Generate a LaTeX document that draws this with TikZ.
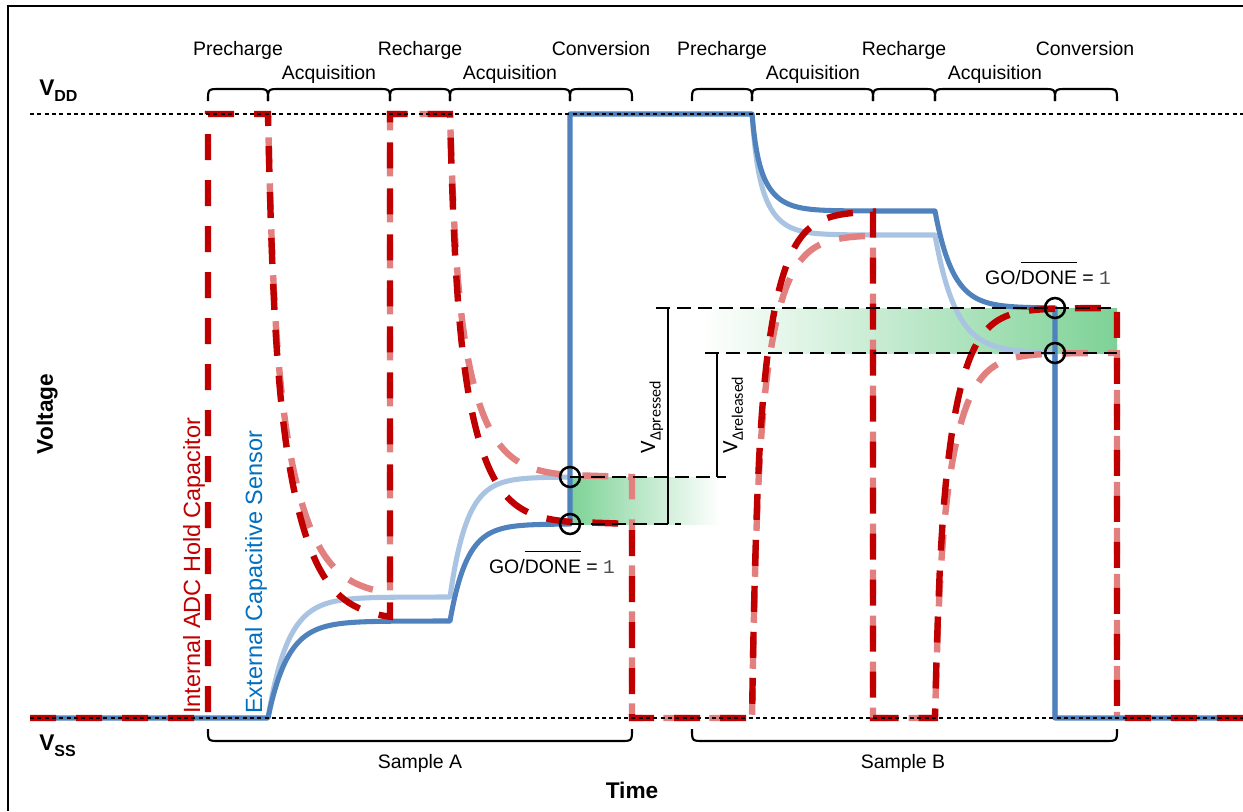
\documentclass[tikz,border=0pt]{standalone}
\usepackage{fontspec}
\setmainfont{Liberation Sans}
\newfontfamily\calfont{Carlito}
\newfontfamily\monofont{Liberation Mono}
\definecolor{dblue}{RGB}{79,129,189}
\definecolor{lblue}{RGB}{168,196,226}
\definecolor{dred}{RGB}{192,0,0}
\definecolor{lred}{RGB}{226,128,128}
\definecolor{tblue}{RGB}{0,112,192}
\definecolor{gfill}{RGB}{125,210,150}
\newsavebox\ovbox
\newcommand\myovl[1]{\sbox\ovbox{#1}\rlap{\rule[\dimexpr\ht\ovbox+5.5pt\relax]{\wd\ovbox}{0.8pt}}\usebox\ovbox}
\newcommand\godone{GO/\myovl{DONE} = {\monofont\color{black!70}1}}
\begin{document}
\begin{tikzpicture}[x=0.75pt,y=-0.75pt,
  db/.style={line width=3.8pt, dblue, line join=round},
  lb/.style={line width=3.8pt, lblue, line join=round},
  dr/.style={line width=4.8pt, dred, dash pattern=on 19.5pt off 15pt},
  lr/.style={line width=4.8pt, lred, dash pattern=on 19.5pt off 15pt, dash phase=17pt},
  rail/.style={line width=0.8pt, black, dash pattern=on 3pt off 2.5pt},
  bdash/.style={line width=2.2pt, black, dash pattern=on 10.5pt off 5.25pt},
  bracketline/.style={line width=2pt, black},
  bracelook/.style={line width=1.6pt, black},
  ring/.style={circle, draw, line width=1.9pt, minimum size=15pt, inner sep=0pt},
  lab/.style={font=\fontsize{14.6}{17}\selectfont, inner sep=0pt, anchor=base},
  big/.style={font=\bfseries\fontsize{17}{20}\selectfont, inner sep=0pt}]
\useasboundingbox (0,0) rectangle (1243,811);
% frame
\draw[line width=1.6pt] (8,811) -- (8,6) -- (1243,6);
% gradients
\shade[left color=gfill, right color=white] (570,477) rectangle (720,524);
\shade[left color=white, right color=gfill] (700,308) rectangle (1117,353);
% light blue (released)
\draw[lb] (268,718) -- plot[domain=268:450, samples=100] (\x,{597+121*exp(-(\x-268)/20)})
  -- plot[domain=450:570, samples=80] (\x,{477+120*exp(-(\x-450)/17)}) -- (570,477);
\draw[lb] (752,114) -- plot[domain=752:935, samples=120] (\x,{235-121*(0.3*exp(-(\x-752)/4)+0.7*exp(-(\x-752)/16))})
  -- plot[domain=935:1055, samples=80] (\x,{353-118*exp(-(\x-935)/21)}) -- (1055,718);
% light red (released)
\draw[lr] (268,114) -- plot[domain=268:390, samples=120] (\x,{597-483*(0.35*exp(-(\x-268)/5)+0.65*exp(-(\x-268)/28))})
  -- (390,114) -- (450,114)
  -- plot[domain=450:570, samples=120] (\x,{477-363*(0.35*exp(-(\x-450)/5)+0.65*exp(-(\x-450)/25))})
  -- (632,477) -- (632,718) -- (752,718)
  -- plot[domain=752:873, samples=120] (\x,{235+483*(0.4*exp(-(\x-752)/4)+0.6*exp(-(\x-752)/20))})
  -- (873,718) -- (935,718)
  -- plot[domain=935:1117, samples=120] (\x,{353+365*(0.3*exp(-(\x-935)/4)+0.7*exp(-(\x-935)/20))})
  -- (1117,718);
% dark blue (pressed)
\draw[db] (30,718) -- (268,718)
  -- plot[domain=268:450, samples=100] (\x,{621+97*exp(-(\x-268)/20)})
  -- plot[domain=450:570, samples=80] (\x,{524+97*exp(-(\x-450)/17)})
  -- (570,114) -- (752,114)
  -- plot[domain=752:935, samples=120] (\x,{211-97*(0.3*exp(-(\x-752)/4)+0.7*exp(-(\x-752)/16))})
  -- plot[domain=935:1055, samples=80] (\x,{308-97*exp(-(\x-935)/18)})
  -- (1055,718) -- (1243,718);
% dark red (pressed)
\draw[dr] (30,718) -- (208,718) -- (208,114) -- (268,114)
  -- plot[domain=268:390, samples=120] (\x,{621-507*(0.35*exp(-(\x-268)/5)+0.65*exp(-(\x-268)/28))})
  -- (390,114) -- (450,114)
  -- plot[domain=450:570, samples=120] (\x,{524-410*(0.35*exp(-(\x-450)/5)+0.65*exp(-(\x-450)/25))})
  -- (632,524) -- (632,718) -- (752,718)
  -- plot[domain=752:873, samples=120] (\x,{211+507*(0.4*exp(-(\x-752)/4)+0.6*exp(-(\x-752)/20))})
  -- (873,718) -- (935,718)
  -- plot[domain=935:1117, samples=120] (\x,{308+410*(0.3*exp(-(\x-935)/4)+0.7*exp(-(\x-935)/20))})
  -- (1117,718) -- (1243,718);
% rails
\draw[rail] (30,114) -- (1243,114);
\draw[rail] (30,718) -- (1243,718);
% black dashed levels and brackets
\draw[bdash] (570,477) -- (726,477);
\draw[bdash] (570,524) -- (681,524);
\draw[bdash] (656,308) -- (1117,308);
\draw[bdash] (705,353) -- (1117,353);
\draw[bracketline] (668,308) -- (668,524);
\draw[bracketline] (717,353) -- (717,477);
% rings
\node[ring] (c1) at (570,477) {};
\node[ring] (c2) at (570,524) {};
\node[ring] (c3) at (1055,308) {};
\node[ring] (c4) at (1055,353) {};
% top braces
\foreach \a/\b in {208/268, 268/390, 390/450, 450/570, 570/632, 692/752, 752/873, 873/935, 935/1055, 1055/1117}
  \draw[bracelook] (\a,101) .. controls (\a,89) .. (\a+12,89) -- (\b-12,89) .. controls (\b,89) .. (\b,101);
% bottom braces
\draw[bracelook] (208,729) .. controls (208,741) .. (220,741) -- (620,741) .. controls (632,741) .. (632,729);
\draw[bracelook] (692,729) .. controls (692,741) .. (704,741) -- (1105,741) .. controls (1117,741) .. (1117,729);
% phase labels
\node[lab] (p1) at (238,55) {Precharge};
\node[lab] (a1) at (329,79) {Acquisition};
\node[lab] (r1) at (420,55) {Recharge};
\node[lab] (a2) at (510,79) {Acquisition};
\node[lab] (v1) at (601,55) {Conversion};
\node[lab] (p2) at (722,55) {Precharge};
\node[lab] (a3) at (813,79) {Acquisition};
\node[lab] (r2) at (904,55) {Recharge};
\node[lab] (a4) at (995,79) {Acquisition};
\node[lab] (v2) at (1085,55) {Conversion};
\node[lab] (sa) at (420,768) {Sample A};
\node[lab] (sb) at (903,768) {Sample B};
% axis labels
\node[big, anchor=base west] (vdd) at (39,95) {V\raisebox{-0.3em}{\fontsize{12}{14}\selectfont DD}};
\node[big, anchor=base west] (vss) at (39,750) {V\raisebox{-0.3em}{\fontsize{12}{14}\selectfont SS}};
\node[big, rotate=90] (volt) at (47,414) {Voltage};
\node[big, anchor=base] (time) at (632,798) {Time};
% trace labels
\node[rotate=90, anchor=base west, inner sep=0pt, text=dred, font=\fontsize{17.6}{20}\selectfont] (lint) at (200,714) {Internal ADC Hold Capacitor};
\node[rotate=90, anchor=base west, inner sep=0pt, text=tblue, font=\fontsize{17.6}{20}\selectfont] (lext) at (262,714) {External Capacitive Sensor};
% delta labels
\node[rotate=90, inner sep=0pt, font=\calfont\fontsize{16.5}{19}\selectfont] (vp) at (652,417) {V\raisebox{-0.25em}{\fontsize{12}{14}\selectfont Δpressed}};
\node[rotate=90, inner sep=0pt, font=\calfont\fontsize{16.5}{19}\selectfont] (vr) at (733,415) {V\raisebox{-0.25em}{\fontsize{12}{14}\selectfont Δreleased}};
% GO/DONE labels
\node[lab] (g1) at (552,573) {\godone};
\node[lab] (g2) at (1048,284) {\godone};
\end{tikzpicture}
\end{document}
